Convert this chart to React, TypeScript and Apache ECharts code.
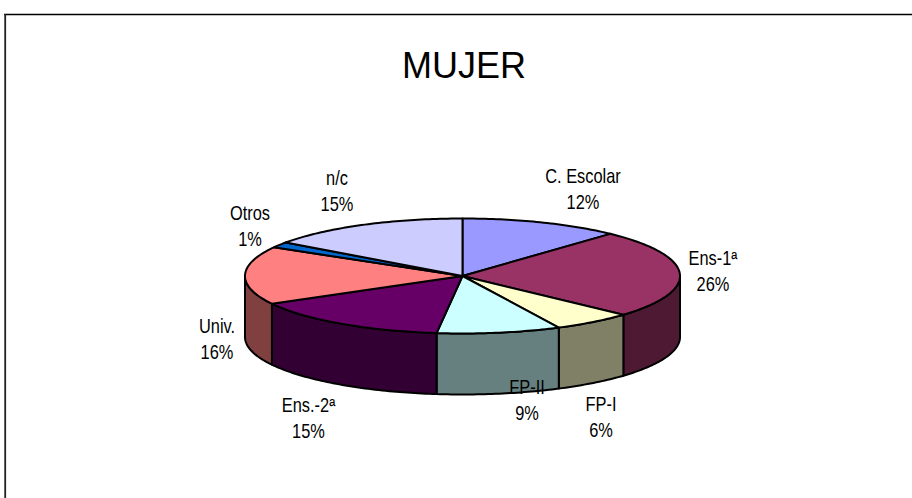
import React, { useEffect, useRef } from "react";
import * as echarts from "echarts";

const chartTitle = "MUJER";
const categories = ["C. Escolar", "Ens-1ª", "FP-I", "FP-II", "Ens.-2ª", "Univ.", "Otros", "n/c"];
const percentLabels = ["12%", "26%", "6%", "9%", "15%", "16%", "1%", "15%"];
const shares = [11.9, 24.85, 5.95, 9.2, 15.1, 16.3, 1.6, 15.1];
const topColors = ["#9999FF", "#993366", "#FFFFCC", "#CCFFFF", "#660066", "#FF8080", "#0066CC", "#CCCCFF"];
const sideColors = ["#4D4D80", "#4D1933", "#808066", "#668080", "#330033", "#804040", "#003366", "#666680"];

const labelCentres: Record<string, [number, number]> = {
  "C. Escolar": [583, 189],
  "Ens-1ª": [713, 271],
  "FP-I": [601, 417],
  "FP-II": [527, 400],
  "Ens.-2ª": [308.5, 418],
  "Univ.": [217, 339],
  Otros: [250, 226],
  "n/c": [337, 191],
};

const PIE = { cx: 462.5, cy: 276, rx: 217.5, ry: 57.5, depth: 61 };
const total = shares.reduce((a, b) => a + b, 0);

function ellipsePoint(t: number, dy = 0): [number, number] {
  return [PIE.cx + PIE.rx * Math.sin(t), PIE.cy - PIE.ry * Math.cos(t) + dy];
}

function arc(t0: number, t1: number, dy = 0): [number, number][] {
  const steps = Math.max(2, Math.ceil(((t1 - t0) / Math.PI) * 180));
  const pts: [number, number][] = [];
  for (let i = 0; i <= steps; i++) pts.push(ellipsePoint(t0 + ((t1 - t0) * i) / steps, dy));
  return pts;
}

const edge = { stroke: "#000000", lineWidth: 2, lineJoin: "round" as const };

function renderSlice(params: any, api: any) {
  const i = params.dataIndex;
  const before = shares.slice(0, i).reduce((a, b) => a + b, 0);
  const t0 = (before / total) * 2 * Math.PI;
  const t1 = ((before + api.value(0)) / total) * 2 * Math.PI;
  const children: any[] = [];

  const wallFrom = Math.max(t0, Math.PI / 2);
  const wallTo = Math.min(t1, (3 * Math.PI) / 2);
  if (wallTo > wallFrom) {
    const points = [...arc(wallFrom, wallTo), ...arc(wallFrom, wallTo, PIE.depth).reverse()];
    children.push({
      type: "polygon",
      z2: 1,
      shape: { points },
      style: { fill: sideColors[i], ...edge },
    });
  }
  children.push({
    type: "polygon",
    z2: 2,
    shape: { points: [[PIE.cx, PIE.cy], ...arc(t0, t1)] },
    style: { fill: topColors[i], ...edge },
  });
  const name = categories[i];
  const [x, y] = labelCentres[name];
  children.push({
    type: "text",
    z2: 10,
    x,
    y,
    scaleX: 0.82,
    style: {
      text: `${name}\n${percentLabels[i]}`,
      align: "center",
      verticalAlign: "middle",
      fontFamily: "Liberation Sans",
      fontSize: 20,
      lineHeight: 26.5,
      fill: "#000000",
    },
  });
  return { type: "group", children };
}

export default function App() {
  const ref = useRef<HTMLDivElement>(null);
  useEffect(() => {
    document.body.style.margin = "0";
    const chart = echarts.init(ref.current!, undefined, { renderer: "svg" });
    chart.setOption({
      animation: false,
      backgroundColor: "#FFFFFF",
      title: {
        text: chartTitle,
        left: 459,
        top: 42,
        textAlign: "center",
        textStyle: { fontFamily: "Liberation Sans", fontSize: 36, fontWeight: "normal", color: "#000000" },
      },
      graphic: [
        { type: "line", shape: { x1: 4, y1: 14.5, x2: 912, y2: 14.5 }, style: { stroke: "#000000", lineWidth: 1.5 } },
        { type: "line", shape: { x1: 5.2, y1: 14, x2: 5.2, y2: 498 }, style: { stroke: "#222222", lineWidth: 1.8 } },
      ],
      series: [
        {
          type: "custom",
          coordinateSystem: "none",
          renderItem: renderSlice,
          silent: true,
          data: categories.map((name, i) => ({ name, value: [shares[i]] })),
        },
      ],
    });
    return () => chart.dispose();
  }, []);
  return <div ref={ref} style={{ width: 912, height: 498 }} />;
}
